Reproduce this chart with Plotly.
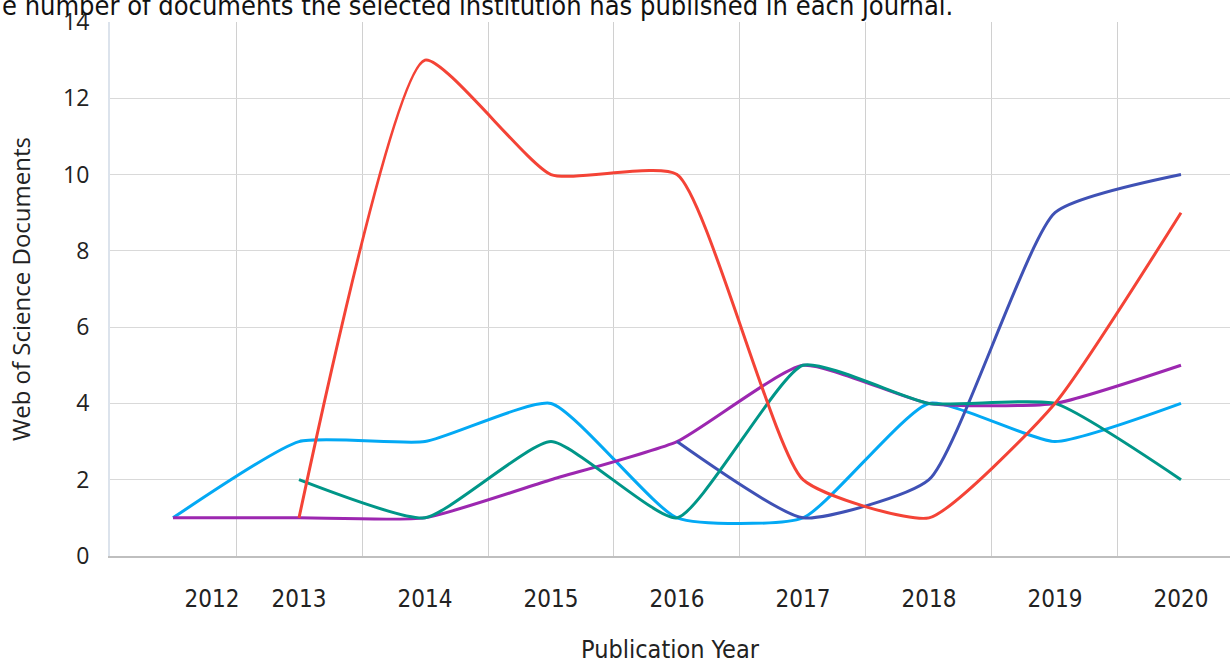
import plotly.graph_objects as go

years = [2012, 2013, 2014, 2015, 2016, 2017, 2018, 2019, 2020]

# documents per journal, None where the journal has no entry yet
red = [None, 1, 13, 10, 10, 2, 1, 4, 9]
cyan = [1, 3, 3, 4, 1, 1, 4, 3, 4]
purple = [1, 1, 1, 2, 3, 5, 4, 4, 5]
teal = [None, 2, 1, 3, 1, 5, 4, 4, 2]
indigo = [None, None, None, None, 3, 1, 2, 9, 10]

tick_pos = [2012.31, 2013, 2014, 2015, 2016, 2017, 2018, 2019, 2020]
tick_text = ["2012", "2013", "2014", "2015", "2016", "2017", "2018", "2019", "2020"]
grid_pos = [2011.5, 2012.5, 2013.5, 2014.5, 2015.5, 2016.5, 2017.5, 2018.5, 2019.5]

series = [
    ("Journal 1", cyan, "#03a9f4"),
    ("Journal 2", purple, "#9c27b0"),
    ("Journal 3", indigo, "#3f51b5"),
    ("Journal 4", teal, "#009688"),
    ("Journal 5", red, "#f44336"),
]

fig = go.Figure()
for name, vals, color in series:
    fig.add_trace(
        go.Scatter(
            x=years,
            y=vals,
            name=name,
            mode="lines",
            line=dict(color=color, width=3, shape="spline", smoothing=0.5),
        )
    )

narrow = "DejaVu Sans Condensed, sans-serif"

fig.update_layout(
    width=1230,
    height=664,
    margin=dict(l=110, r=0, t=22, b=108),
    paper_bgcolor="white",
    plot_bgcolor="white",
    showlegend=False,
    font=dict(family="Open Sans, sans-serif", color="#222222"),
    xaxis=dict(
        range=[2011.5, 2020.389],
        tickvals=tick_pos,
        ticktext=tick_text,
        tickfont=dict(family=narrow, size=24, color="#222222"),
        showgrid=False,
        zeroline=False,
        showline=True,
        linecolor="#bfbfbf",
        linewidth=2,
        ticks="",
        ticklabelstandoff=20,
        minor=dict(tickvals=grid_pos, showgrid=True, gridcolor="#d0d0d0", gridwidth=1),
        title=dict(text="Publication Year", font=dict(family=narrow, size=25, color="#222222"), standoff=32),
    ),
    yaxis=dict(
        range=[0, 14],
        dtick=2,
        tickfont=dict(size=23, color="#222222"),
        showgrid=True,
        gridcolor="#d9d9d9",
        gridwidth=1,
        zeroline=False,
        showline=True,
        linecolor="#dce3ec",
        linewidth=2,
        ticks="",
        ticklabelstandoff=14,
        title=dict(text="Web of Science Documents", font=dict(size=24, color="#222222"), standoff=26),
    ),
    annotations=[
        dict(
            text="e number of documents the selected institution has published in each journal.",
            xref="paper", yref="paper",
            x=-110 / 1120, y=1.03,
            xanchor="left", yanchor="middle",
            showarrow=False,
            font=dict(family=narrow, size=27, color="#111111"),
        )
    ],
)

fig.write_html(
    "out.html",
    config={"displayModeBar": False},
    post_script="document.body.style.margin='0';",
)
